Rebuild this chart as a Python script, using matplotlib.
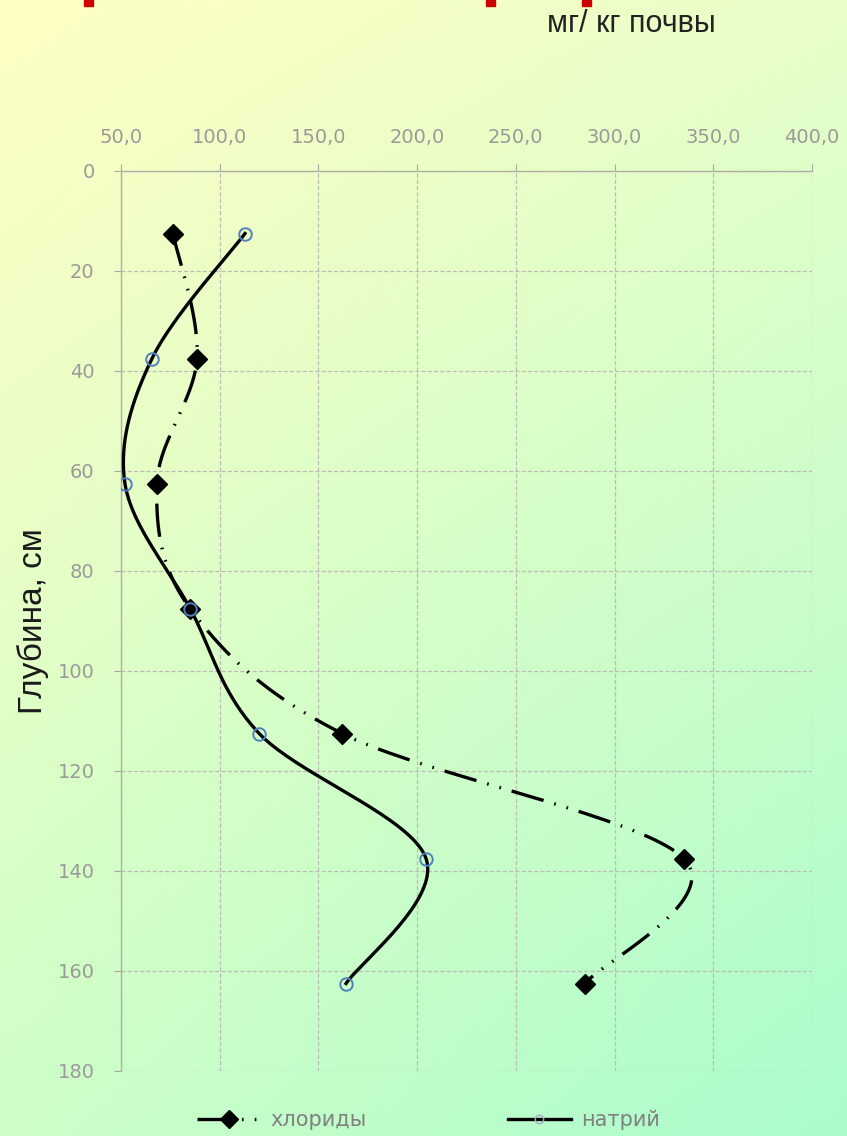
import matplotlib
matplotlib.use("Agg")
import matplotlib.pyplot as plt
import numpy as np
from matplotlib.patches import Rectangle
from matplotlib.lines import Line2D

# data (depth in cm, concentration in mg/kg soil)
depth = [12.5, 37.5, 62.5, 87.5, 112.5, 137.5, 162.5]
chlorides = [76.3, 88.5, 68.2, 85.0, 162.0, 335.0, 285.0]
sodium = [112.8, 65.7, 52.0, 85.0, 120.0, 204.5, 164.0]
x_ticks = [50, 100, 150, 200, 250, 300, 350, 400]
y_ticks = [0, 20, 40, 60, 80, 100, 120, 140, 160, 180]


def smooth(xs, ys, n=40):
    # excel-like smoothed line: cubic bezier through points, catmull-rom handles
    p = np.column_stack([xs, ys]).astype(float)
    pts = []
    for i in range(len(p) - 1):
        p_prev = p[i - 1] if i > 0 else p[i]
        p_next = p[i + 2] if i + 2 < len(p) else p[i + 1]
        c1 = p[i] + (p[i + 1] - p_prev) / 6
        c2 = p[i + 1] - (p_next - p[i]) / 6
        t = np.linspace(0, 1, n)[:, None]
        seg = ((1 - t) ** 3 * p[i] + 3 * (1 - t) ** 2 * t * c1
               + 3 * (1 - t) * t ** 2 * c2 + t ** 3 * p[i + 1])
        pts.append(seg if i == 0 else seg[1:])
    pts = np.vstack(pts)
    return pts[:, 0], pts[:, 1]


plt.rcParams['lines.scale_dashes'] = False
fig = plt.figure(figsize=(8.47, 11.36), dpi=100)

# gradient background
bg = fig.add_axes([0, 0, 1, 1], zorder=-10)
tl = np.array([255, 255, 196]) / 255
tr = np.array([232, 255, 200]) / 255
bl = np.array([206, 255, 200]) / 255
br = np.array([170, 252, 205]) / 255
u = np.linspace(0, 1, 200)[None, :, None]
v = np.linspace(0, 1, 260)[:, None, None]
img = (1 - u) * (1 - v) * tl + u * (1 - v) * tr + (1 - u) * v * bl + u * v * br
bg.imshow(img, aspect='auto', extent=[0, 1, 0, 1], origin='upper')
bg.set_axis_off()

# cropped red title remnants at top edge
for x0 in [84, 486, 582]:
    fig.patches.append(Rectangle((x0 / 847, 1 - 6 / 1136), 9 / 847, 6 / 1136,
                                 transform=fig.transFigure, color='#cc0000'))

ax = fig.add_axes([121 / 847, 1 - 1071 / 1136, 691 / 847, 900 / 1136])
ax.patch.set_alpha(0)
ax.set_xlim(50, 400)
ax.set_ylim(180, 0)
ax.xaxis.tick_top()
ax.set_xticks(x_ticks)
ax.set_xticklabels([f"{v:.1f}".replace('.', ',') for v in x_ticks])
ax.set_yticks(y_ticks)
ax.tick_params(axis='both', colors='#a8a8a0', labelcolor='#9a9a9a',
               labelsize=14, length=5, direction='out')
ax.tick_params(axis='x', pad=12)
ax.tick_params(axis='y', pad=14)
ax.grid(True, color='#bcbcb4', linestyle=(0, (3, 1.5)), linewidth=0.9)
for s in ['right', 'bottom']:
    ax.spines[s].set_visible(False)
for s in ['left', 'top']:
    ax.spines[s].set_color('#b0b0a8')
    ax.spines[s].set_linewidth(1)

sx, sy = smooth(chlorides, depth)
ax.plot(sx, sy, color='black', lw=2.4, dashes=(24, 8, 1.2, 8, 1.2, 8),
        zorder=3)
ax.plot(chlorides, depth, linestyle='none', marker='D', ms=10,
        color='black', zorder=4)

nx, ny = smooth(sodium, depth)
ax.plot(nx, ny, color='black', lw=2.4, zorder=3)
ax.plot(sodium, depth, linestyle='none', marker='o', ms=9, mfc='none',
        mec='#4f81bd', mew=1.4, zorder=4)

ax.set_ylabel('Глубина, см', fontsize=24, family='Liberation Sans',
              color='#1a1a1a')
ax.yaxis.set_label_coords(-0.104, 0.5)

fig.text(0.746, 0.979, 'мг/ кг почвы', ha='center', va='center',
         fontsize=22, family='Liberation Sans', color='#222222')

h1 = Line2D([], [], color='black', lw=2.4, dashes=(24, 8, 1.2, 8, 1.2, 8),
            marker='D', ms=9, mfc='black', mec='black')
h2 = Line2D([], [], color='black', lw=2.4, marker='o', ms=6, mfc='none',
            mec='#9ab0c8', mew=1)
leg = fig.legend([h1, h2], ['хлориды', 'натрий'], loc='center',
                 bbox_to_anchor=(0.506, 0.0141), ncol=2, frameon=False,
                 handlelength=3.0, handletextpad=0.5, columnspacing=6.8,
                 prop={'family': 'DejaVu Sans', 'size': 15})
for t in leg.get_texts():
    t.set_color('#808080')

fig.savefig('out.png', dpi=100)
